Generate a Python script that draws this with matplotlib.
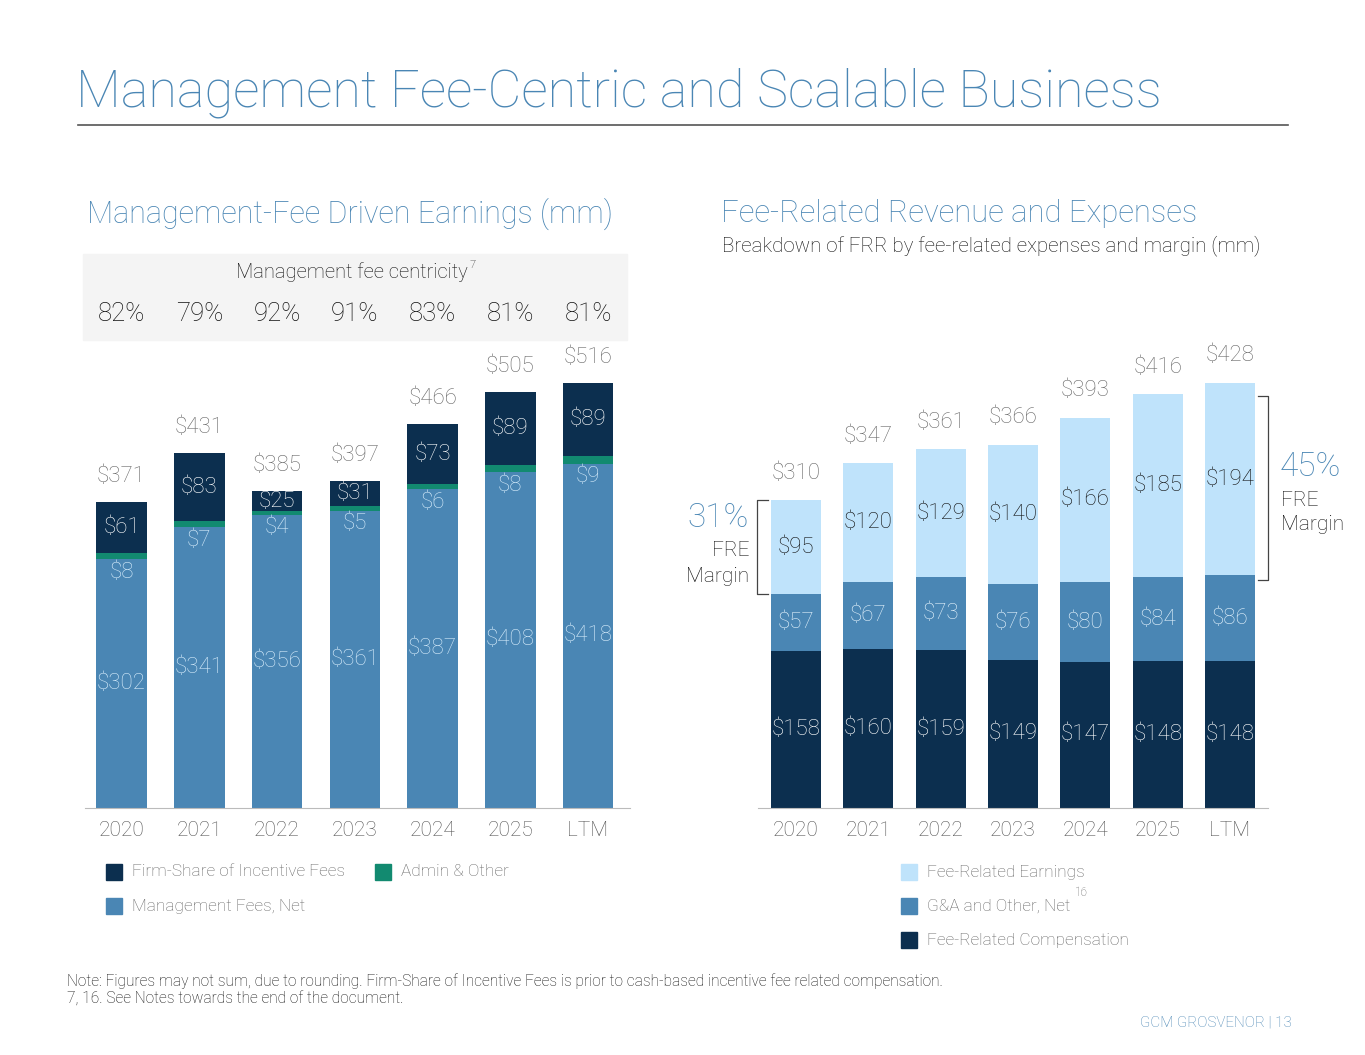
import matplotlib
matplotlib.use("Agg")
import matplotlib.pyplot as plt
import numpy as np

plt.rcParams['font.family'] = ['Roboto', 'DejaVu Sans']

W, H = 1365, 1055

# ---- data ----
years = ['2020', '2021', '2022', '2023', '2024', '2025', 'LTM']
centricity = ['82%', '79%', '92%', '91%', '83%', '81%', '81%']

mgmt_fees = [302, 341, 356, 361, 387, 408, 418]
admin_other = [8, 7, 4, 5, 6, 8, 9]
incentive = [61, 83, 25, 31, 73, 89, 89]
left_totals = [371, 431, 385, 397, 466, 505, 516]

fre_comp = [158, 160, 159, 149, 147, 148, 148]
ga_other = [57, 67, 73, 76, 80, 84, 86]
fre = [95, 120, 129, 140, 166, 185, 194]
right_totals = [310, 347, 361, 366, 393, 416, 428]

margins = ['31%', '45%']

# colours
NAVY = '#0c2f4f'
BLUE = '#4a86b4'
TEAL = '#128a70'
LIGHT = '#bfe3fb'
TITLE = '#4a86b4'
GREY = '#666666'
LW = 'light'


def px(x, y):
    return x / W, 1 - y / H


fig = plt.figure(figsize=(W / 100, H / 100), dpi=100)


def ftext(x, y, s, **kw):
    kw.setdefault('fontweight', LW)
    kw.setdefault('va', 'center')
    fig.text(*px(x, y), s, **kw)


# title and rule
ftext(76, 93, 'Management Fee-Centric and Scalable Business', fontsize=37.5,
      color=TITLE, ha='left')
fig.add_artist(plt.Line2D([78 / W, 1288 / W], [1 - 125 / H] * 2,
                          color='#555555', lw=1.2))

ftext(87, 214, 'Management-Fee Driven Earnings (mm)', fontsize=22, color=TITLE)
ftext(721, 214, 'Fee-Related Revenue and Expenses', fontsize=22.3, color=TITLE)
ftext(722, 246, 'Breakdown of FRR by fee-related expenses and margin (mm)',
      fontsize=14.8, color='#111111')

# ---- left chart ----
x = np.arange(len(years))
axL = fig.add_axes([85 / W, 1 - 808 / H, (630 - 85) / W, (808 - 340) / H])
axL.set_xlim(-0.47, 6.54)
axL.set_ylim(0, 568)
bw = 0.65
axL.bar(x, mgmt_fees, bw, color=BLUE)
b1 = np.array(mgmt_fees)
axL.bar(x, admin_other, bw, bottom=b1, color=TEAL)
b2 = b1 + np.array(admin_other)
axL.bar(x, incentive, bw, bottom=b2, color=NAVY)

FS = 16
for i in range(len(years)):
    axL.text(x[i], mgmt_fees[i] / 2, f'${mgmt_fees[i]}', ha='center', va='center',
             fontsize=FS, color='#d6ecfb', fontweight=LW)
    axL.text(x[i], mgmt_fees[i] - 16, f'${admin_other[i]}', ha='center', va='center',
             fontsize=FS, color='#d6ecfb', fontweight=LW)
    axL.text(x[i], b2[i] + incentive[i] / 2, f'${incentive[i]}', ha='center',
             va='center', fontsize=FS, color='white', fontweight=LW)
    axL.text(x[i], left_totals[i] + 31, f'${left_totals[i]}', ha='center',
             va='center', fontsize=FS, color=GREY, fontweight=LW)

# centricity box
fig.add_artist(plt.Rectangle((83 / W, 1 - 340 / H), (627 - 83) / W, 86 / H,
                             color='#f4f4f4', zorder=0))
ftext(352, 272, 'Management fee centricity', fontsize=14.5, ha='center',
      color='#111111')
ftext(470, 265, '7', fontsize=8, ha='left', color='#111111')
for i, c in enumerate(centricity):
    xd = axL.transData.transform((x[i], 0))[0]
    fig.text(xd / W, 1 - 314 / H, c, fontsize=18.5, ha='center', va='center',
             color='#111111', fontweight=LW)

# ---- right chart ----
axR = fig.add_axes([758 / W, 1 - 808 / H, (1268 - 758) / W, (808 - 340) / H])
axR.set_xlim(-0.525, 6.525)
axR.set_ylim(0, 471)
bw2 = 0.69
axR.bar(x, fre_comp, bw2, color=NAVY)
c1 = np.array(fre_comp)
axR.bar(x, ga_other, bw2, bottom=c1, color=BLUE)
c2 = c1 + np.array(ga_other)
axR.bar(x, fre, bw2, bottom=c2, color=LIGHT)

for i in range(len(years)):
    axR.text(x[i], fre_comp[i] / 2, f'${fre_comp[i]}', ha='center', va='center',
             fontsize=FS, color='white', fontweight=LW)
    axR.text(x[i], c1[i] + ga_other[i] / 2, f'${ga_other[i]}', ha='center',
             va='center', fontsize=FS, color='#e3f2fc', fontweight=LW)
    axR.text(x[i], c2[i] + fre[i] / 2, f'${fre[i]}', ha='center', va='center',
             fontsize=FS, color='#111111', fontweight=LW)
    axR.text(x[i], right_totals[i] + 27, f'${right_totals[i]}', ha='center',
             va='center', fontsize=FS, color=GREY, fontweight=LW)

for ax in (axL, axR):
    ax.set_xticks(x)
    ax.set_xticklabels(years, fontsize=15, color='#555555', fontweight=LW)
    ax.tick_params(axis='x', length=0, pad=9)
    ax.set_yticks([])
    for s in ('top', 'right', 'left'):
        ax.spines[s].set_visible(False)
    ax.spines['bottom'].set_color('#bbbbbb')
    ax.patch.set_alpha(0)

# margin brackets
first_lo, first_hi = c2[0], c2[0] + fre[0]
last_lo, last_hi = c2[-1] - 5, right_totals[-1] - 13
axR.plot([-0.39, -0.54, -0.54, -0.39], [first_hi, first_hi, first_lo, first_lo],
         color='#444444', lw=0.9, clip_on=False)
axR.plot([6.38, 6.525, 6.525, 6.38], [last_hi, last_hi, last_lo, last_lo],
         color='#444444', lw=0.9, clip_on=False)

ftext(749, 518, margins[0], fontsize=24, color=TITLE, ha='right')
ftext(749, 551, 'FRE', fontsize=15, color='#111111', ha='right')
ftext(749, 576, 'Margin', fontsize=15, color='#111111', ha='right')
ftext(1280, 467, margins[1], fontsize=24, color=TITLE, ha='left')
ftext(1281, 500, 'FRE', fontsize=15, color='#111111', ha='left')
ftext(1281, 525, 'Margin', fontsize=15, color='#111111', ha='left')


# ---- legends ----
def legend_item(xs, ys, color, label):
    fig.add_artist(plt.Rectangle((xs / W, 1 - (ys + 8) / H), 16 / W, 16 / H,
                                 color=color))
    ftext(xs + 26, ys, label, fontsize=12.4, color=GREY)


legend_item(106, 872, NAVY, 'Firm-Share of Incentive Fees')
legend_item(375, 872, TEAL, 'Admin & Other')
legend_item(106, 906, BLUE, 'Management Fees, Net')
legend_item(901, 872, LIGHT, 'Fee-Related Earnings')
legend_item(901, 906, BLUE, 'G&A and Other, Net')
ftext(1075, 893, '16', fontsize=8.5, color=GREY)
legend_item(901, 940, NAVY, 'Fee-Related Compensation')

# footnotes
ftext(67, 981, 'Note: Figures may not sum, due to rounding. Firm-Share of Incentive Fees '
      'is prior to cash-based incentive fee related compensation.',
      fontsize=11.2, color='#111111')
ftext(67, 999, '7, 16. See Notes towards the end of the document.', fontsize=11.2,
      color='#111111')
ftext(1292, 1022, 'GCM GROSVENOR | 13', fontsize=10.9, color=TITLE, ha='right')

fig.savefig('out.png', dpi=100)
